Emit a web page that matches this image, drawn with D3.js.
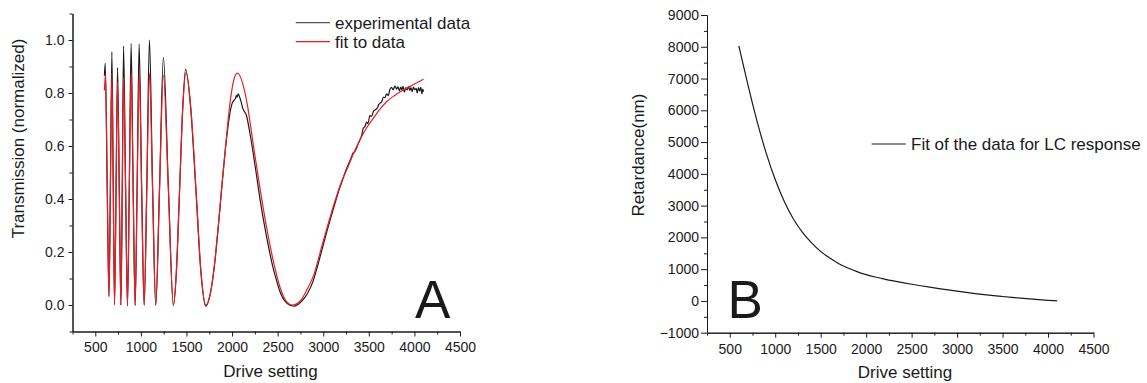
<!DOCTYPE html>
<html>
<head>
<meta charset="utf-8">
<script src="https://cdn.jsdelivr.net/npm/d3@7"></script>
<style>
  body { margin: 0; background: #fff; }
  svg { display: block; }
  text { font-family: "Liberation Sans", Arial, Helvetica, sans-serif; }
</style>
</head>
<body>
<svg id="chart" width="1147" height="383"></svg>
<script>
// ---- Panel A: measured transmission vs drive setting ----
const expDrive = [600, 609, 630, 650, 666, 682, 697, 711, 728, 744, 763, 781, 796, 810, 832, 853, 873, 893, 915, 937,
  959, 981, 1008, 1036, 1065, 1094, 1128, 1163, 1205, 1247, 1301, 1356, 1390, 1425, 1460, 1491, 1549, 1604, 1658, 1711,
  1760, 1800, 1850, 1886, 1940, 1975, 2000, 2020, 2035, 2048, 2056, 2066, 2078, 2095, 2120, 2158, 2195, 2231, 2270, 2304,
  2340, 2377, 2415, 2450, 2490, 2524, 2560, 2597, 2640, 2685, 2730, 2780, 2830, 2889, 2940, 2999, 3050, 3109, 3160, 3210,
  3256, 3300, 3330, 3345, 3366, 3385, 3405, 3420, 3440, 3457, 3475, 3490, 3512, 3530, 3550, 3567, 3590, 3610, 3622, 3645,
  3660, 3677, 3695, 3714, 3730, 3750, 3765, 3787, 3805, 3820, 3835, 3850, 3862, 3875, 3890, 3905, 3920, 3935, 3950, 3962,
  3975, 3990, 4005, 4020, 4030, 4045, 4058, 4070, 4082, 4092, 4100];
const expT = [0.865, 0.912, 0.46, 0.035, 0.46, 0.955, 0.45, 0.002, 0.45, 0.896, 0.44, 0.0, 0.45, 0.977, 0.45, -0.003, 0.45, 0.987, 0.45, -0.002,
  0.45, 0.985, 0.45, -0.002, 0.45, 1.0, 0.45, -0.002, 0.45, 0.935, 0.45, -0.002, 0.13, 0.44, 0.75, 0.889, 0.73, 0.43, 0.125, -0.004,
  0.04, 0.13, 0.3, 0.44, 0.63, 0.72, 0.76, 0.772, 0.778, 0.79, 0.784, 0.797, 0.79, 0.772, 0.74, 0.715, 0.65, 0.575, 0.485, 0.405,
  0.33, 0.26, 0.195, 0.14, 0.09, 0.052, 0.025, 0.008, -0.002, -0.004, 0.004, 0.02, 0.045, 0.09, 0.15, 0.225, 0.29, 0.36, 0.42, 0.47,
  0.515, 0.55, 0.575, 0.578, 0.592, 0.61, 0.625, 0.638, 0.668, 0.673, 0.69, 0.685, 0.715, 0.712, 0.73, 0.736, 0.742, 0.757, 0.761, 0.77,
  0.785, 0.782, 0.797, 0.79, 0.812, 0.821, 0.812, 0.826, 0.815, 0.823, 0.808, 0.822, 0.812, 0.825, 0.803, 0.82, 0.812, 0.824, 0.81, 0.82,
  0.805, 0.822, 0.812, 0.818, 0.80, 0.82, 0.808, 0.821, 0.797, 0.815, 0.805];

// ---- Panel A: fitted transmission ----
const fitDrive = [600, 612, 631, 650, 666, 682, 697, 711, 728, 744, 763, 781, 796, 810, 832, 853, 873, 893, 915, 937,
  959, 981, 1008, 1036, 1065, 1094, 1128, 1163, 1205, 1247, 1301, 1356, 1390, 1425, 1460, 1495, 1549, 1604, 1658, 1713,
  1760, 1800, 1850, 1886, 1930, 1973, 2020, 2058, 2158, 2231, 2304, 2377, 2450, 2524, 2597, 2665, 2750, 2820, 2889, 2999,
  3109, 3200, 3256, 3330, 3402, 3475, 3548, 3620, 3695, 3780, 3878, 3990, 4100];
const fitT = [0.81, 0.872, 0.45, 0.03, 0.45, 0.872, 0.44, 0.0, 0.44, 0.84, 0.43, 0.0, 0.44, 0.859, 0.44, 0.0, 0.44, 0.875, 0.44, 0.0,
  0.44, 0.875, 0.44, 0.0, 0.44, 0.875, 0.44, 0.0, 0.44, 0.868, 0.44, 0.0, 0.13, 0.44, 0.75, 0.877, 0.74, 0.44, 0.13, 0.0,
  0.04, 0.13, 0.3, 0.44, 0.6, 0.75, 0.85, 0.875, 0.774, 0.61, 0.446, 0.296, 0.17, 0.069, 0.013, 0.0, 0.016, 0.057, 0.107, 0.24,
  0.37, 0.465, 0.509, 0.57, 0.623, 0.668, 0.704, 0.738, 0.767, 0.79, 0.811, 0.832, 0.852];

// ---- Panel B: retardance fit ----
const retDrive = [600, 700, 800, 900, 1000, 1100, 1200, 1300, 1400, 1500, 1600, 1700, 1800, 1900, 2000, 2100, 2200, 2300,
  2400, 2500, 2600, 2700, 2800, 2900, 3000, 3100, 3200, 3300, 3400, 3500, 3600, 3700, 3800, 3900, 4000, 4100];
const retNm = [8030, 6800, 5660, 4660, 3820, 3130, 2580, 2160, 1830, 1560, 1348, 1173, 1035, 922, 827, 752, 687, 629,
  576, 526, 478, 432, 388, 346, 306, 268, 232, 199, 168, 139, 112, 87, 63, 41, 20, 0];

// ---- tick values ----
const driveTicks = [500, 1000, 1500, 2000, 2500, 3000, 3500, 4000, 4500];
const driveMinorTicks = [250, 750, 1250, 1750, 2250, 2750, 3250, 3750, 4250];
const transTicks = [0, 0.2, 0.4, 0.6, 0.8, 1.0];
const transMinorTicks = [-0.1, 0.1, 0.3, 0.5, 0.7, 0.9, 1.1];
const retTicks = [-1000, 0, 1000, 2000, 3000, 4000, 5000, 6000, 7000, 8000, 9000];
const retMinorTicks = [-500, 500, 1500, 2500, 3500, 4500, 5500, 6500, 7500, 8500];

const ink = "#1a1a1a";
const red = "#ec1c24";
const svg = d3.select("#chart");

function styleAxis(sel, fontSize) {
  sel.attr("font-family", null).attr("font-size", fontSize);
  sel.selectAll("path.domain").attr("stroke", ink).attr("stroke-width", 1);
  sel.selectAll(".tick line").attr("stroke", ink).attr("stroke-width", 1);
  sel.selectAll(".tick text").attr("fill", ink);
}

function axes(x, y, yMajor, yMinor, yFormat, yTick, yPad) {
  const y0 = y.range()[0];
  const x0 = x.range()[0];
  svg.append("g").attr("transform", `translate(0,${y0})`)
    .call(d3.axisBottom(x).tickValues(driveMinorTicks).tickSize(3).tickFormat("").tickSizeOuter(0))
    .call(styleAxis, 14);
  svg.append("g").attr("transform", `translate(0,${y0})`)
    .call(d3.axisBottom(x).tickValues(driveTicks).tickSize(5).tickPadding(6).tickSizeOuter(0).tickFormat(d3.format("d")))
    .call(styleAxis, 14);
  svg.append("g").attr("transform", `translate(${x0},0)`)
    .call(d3.axisLeft(y).tickValues(yMinor).tickSize(3).tickFormat("").tickSizeOuter(0))
    .call(styleAxis, 14);
  svg.append("g").attr("transform", `translate(${x0},0)`)
    .call(d3.axisLeft(y).tickValues(yMajor).tickSize(yTick).tickPadding(yPad).tickSizeOuter(0).tickFormat(yFormat))
    .call(styleAxis, 14);
}

// ================= Panel A =================
const xA = d3.scaleLinear().domain([250, 4500]).range([72.5, 460]);
const yA = d3.scaleLinear().domain([-0.1, 1.1]).range([331.5, 13.5]);
axes(xA, yA, transTicks, transMinorTicks, d3.format(".1f"), 4, 4);

const lineA = d3.line().curve(d3.curveMonotoneX);
const expPts = expDrive.map((d, i) => [xA(d), yA(expT[i])]);
const fitPts = fitDrive.map((d, i) => [xA(d), yA(fitT[i])]);
svg.append("path").attr("d", lineA(expPts)).attr("fill", "none").attr("stroke", ink).attr("stroke-width", 1.2);
svg.append("path").attr("d", lineA(fitPts)).attr("fill", "none").attr("stroke", red).attr("stroke-width", 1.2);

svg.append("text").attr("transform", "translate(23.5,138.5) rotate(-90)")
  .attr("text-anchor", "middle").attr("font-size", 17).attr("fill", ink).text("Transmission (normalized)");
svg.append("text").attr("x", 270.5).attr("y", 377)
  .attr("text-anchor", "middle").attr("font-size", 17).attr("fill", ink).text("Drive setting");

// legend A
const legA = [{label: "experimental data", color: "#555", y: 22.7}, {label: "fit to data", color: red, y: 41.7}];
legA.forEach(l => {
  svg.append("line").attr("x1", 295.7).attr("x2", 330).attr("y1", l.y).attr("y2", l.y)
    .attr("stroke", l.color).attr("stroke-width", 1.2);
  svg.append("text").attr("x", 335).attr("y", l.y).attr("dy", "0.35em")
    .attr("font-size", 17).attr("fill", ink).text(l.label);
});
svg.append("text").attr("x", 415).attr("y", 318.3).attr("font-size", 53).attr("fill", ink).text("A");

// ================= Panel B =================
const xB = d3.scaleLinear().domain([250, 4500]).range([707, 1093.5]);
const yB = d3.scaleLinear().domain([-1000, 9000]).range([332.7, 15]);
axes(xB, yB, retTicks, retMinorTicks, d3.format("d"), 6, 2);

const retPts = retDrive.map((d, i) => [xB(d), yB(retNm[i])]);
svg.append("path").attr("d", d3.line().curve(d3.curveNatural)(retPts))
  .attr("fill", "none").attr("stroke", ink).attr("stroke-width", 1.2);

svg.append("text").attr("transform", "translate(644,155) rotate(-90)")
  .attr("text-anchor", "middle").attr("font-size", 17).attr("fill", ink).text("Retardance(nm)");
svg.append("text").attr("x", 905).attr("y", 378)
  .attr("text-anchor", "middle").attr("font-size", 17).attr("fill", ink).text("Drive setting");

svg.append("line").attr("x1", 871.7).attr("x2", 905.7).attr("y1", 144).attr("y2", 144)
  .attr("stroke", ink).attr("stroke-width", 1.2);
svg.append("text").attr("x", 911).attr("y", 144).attr("dy", "0.35em")
  .attr("font-size", 17).attr("fill", ink).text("Fit of the data for LC response");
svg.append("text").attr("x", 727.5).attr("y", 318.3).attr("font-size", 53).attr("fill", ink).text("B");
</script>
</body>
</html>
